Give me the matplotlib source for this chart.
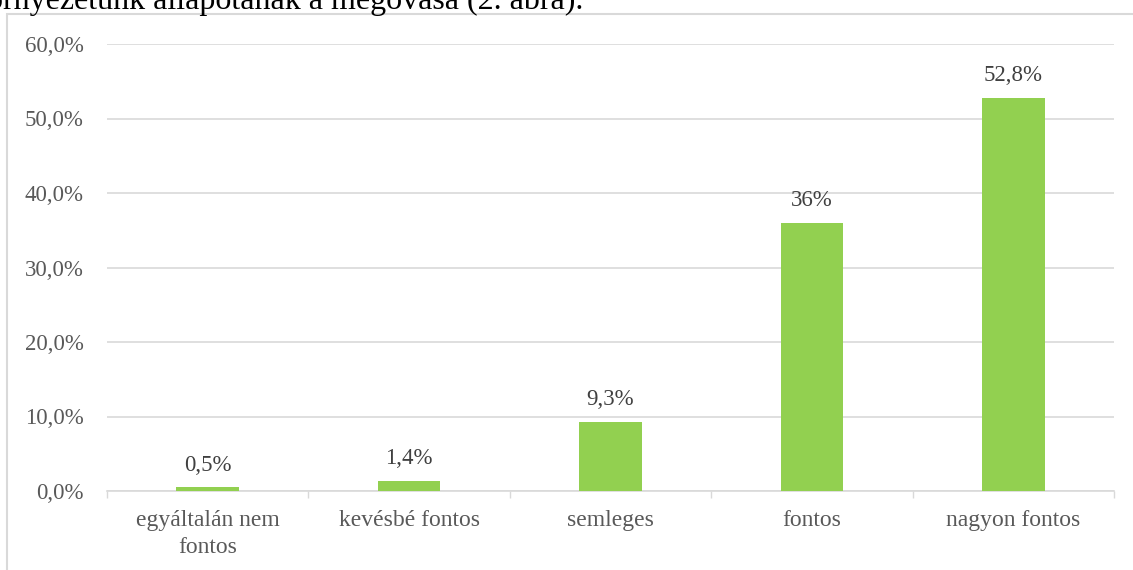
import numpy as np
import matplotlib
matplotlib.use("Agg")
import matplotlib.pyplot as plt
from matplotlib.patches import Rectangle

plt.rcParams["font.family"] = ["Liberation Serif", "DejaVu Serif"]

# adatok
categories = ["egyáltalán nem\nfontos", "kevésbé fontos", "semleges", "fontos", "nagyon fontos"]
values = [0.5, 1.4, 9.3, 36.0, 52.8]
value_labels = ["0,5%", "1,4%", "9,3%", "36%", "52,8%"]
y_ticks = [0, 10, 20, 30, 40, 50, 60]
y_tick_labels = ["0,0%", "10,0%", "20,0%", "30,0%", "40,0%", "50,0%", "60,0%"]
caption = "környezetünk állapotának a megóvása (2. ábra)."

W, H = 1133, 570
fig = plt.figure(figsize=(W / 100, H / 100), dpi=100)

# tengely helye pixelben
left, right, bottom, top = 107, 1114, 491, 44
ax = fig.add_axes([left / W, (H - bottom) / H, (right - left) / W, (bottom - top) / H])

x = np.arange(len(categories))
ax.bar(x, values, width=0.31, color="#92D050", zorder=3)

ax.set_xlim(-0.5, len(categories) - 0.5)
ax.set_ylim(0, 60)

ax.set_yticks(y_ticks)
ax.set_yticklabels(y_tick_labels)
ax.set_xticks(x)
ax.set_xticklabels(categories, linespacing=1.35)
ax.set_xticks(np.arange(len(categories) + 1) - 0.5, minor=True)

ax.tick_params(axis="y", length=0, pad=17, labelsize=16.5, labelcolor="#595959")
ax.tick_params(axis="x", which="major", length=0, pad=14, labelsize=17, labelcolor="#595959")
ax.tick_params(axis="x", which="minor", length=5, width=1, color="#D9D9D9")

ax.grid(axis="y", color="#D9D9D9", linewidth=1.2, zorder=0)
for s in ["top", "right", "left"]:
    ax.spines[s].set_visible(False)
ax.spines["bottom"].set_color("#D9D9D9")
ax.spines["bottom"].set_linewidth(1.2)

for xi, v, lab in zip(x, values, value_labels):
    ax.annotate(lab, (xi, v), xytext=(0, 12), textcoords="offset points",
                ha="center", va="baseline", fontsize=16.5, color="#404040")

# keret a diagram körül
fig.patches.append(Rectangle((7 / W, -0.1), 1.2, (H - 14) / H + 0.1,
                             transform=fig.transFigure, fill=False,
                             edgecolor="#D9D9D9", linewidth=1.5, zorder=0))

# levágott szövegsor fent
fig.text(583 / W, 1 - 9 / H, caption, ha="right", va="baseline",
         fontsize=23, color="black")

fig.savefig("out.png", dpi=100)
